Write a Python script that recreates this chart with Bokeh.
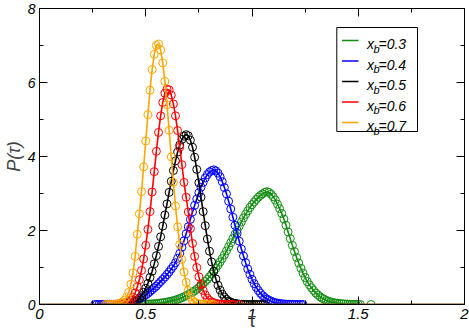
from bokeh.plotting import figure
from bokeh.models import LinearAxis, FixedTicker, Range1d, ColumnDataSource, CustomJSTickFormatter
from bokeh.core.properties import value
from bokeh.embed import file_html
from bokeh.resources import INLINE

nan = float("nan")

# common tau grid of the histograms
TAU = [0.26, 0.27, 0.28, 0.29, 0.30, 0.31, 0.32, 0.33, 0.34, 0.35,
       0.36, 0.37, 0.38, 0.39, 0.40, 0.41, 0.42, 0.43, 0.44, 0.45,
       0.46, 0.47, 0.48, 0.49, 0.50, 0.51, 0.52, 0.53, 0.54, 0.55,
       0.56, 0.57, 0.58, 0.59, 0.60, 0.61, 0.62, 0.63, 0.64, 0.65,
       0.66, 0.67, 0.68, 0.69, 0.70, 0.71, 0.72, 0.73, 0.74, 0.75,
       0.76, 0.77, 0.78, 0.79, 0.80, 0.81, 0.82, 0.83, 0.84, 0.85,
       0.86, 0.87, 0.88, 0.89, 0.90, 0.91, 0.92, 0.93, 0.94, 0.95,
       0.96, 0.97, 0.98, 0.99, 1.00, 1.01, 1.02, 1.03, 1.04, 1.05,
       1.06, 1.07, 1.08, 1.09, 1.10, 1.11, 1.12, 1.13, 1.14, 1.15,
       1.16, 1.17, 1.18, 1.19, 1.20, 1.21, 1.22, 1.23, 1.24, 1.25,
       1.26, 1.27, 1.28, 1.29, 1.30, 1.31, 1.32, 1.33, 1.34, 1.35,
       1.36, 1.37, 1.38, 1.39, 1.40, 1.41, 1.42, 1.43, 1.44, 1.45,
       1.46, 1.47, 1.48, 1.49, 1.50, 1.51, 1.52, 1.53, 1.54, 1.55,
       1.56]

XB_LABELS = ["0.3", "0.4", "0.5", "0.6", "0.7"]
COLORS = ["#118c11", "#0000ff", "#000000", "#ff0000", "#ffa500"]

# x_b = 0.3 (starts at tau = 0.45)
start_03 = 0.45
p_03 = [0, .002, .004, .006, .008, .01, .012, .015, .018, .022,
        .027, .033, .04, .048, .057, .067, .078, .09, .105, .12,
        .14, .16, .185, .21, .24, .27, .30, .33, .37, .41,
        .46, .51, .56, .62, .68, .75, .82, .89, .97, 1.06,
        1.15, 1.24, 1.34, 1.45, 1.56, 1.67, 1.78, 1.90, 2.01, 2.12,
        2.23, 2.34, 2.44, 2.53, 2.62, 2.70, 2.77, 2.84, 2.90, 2.95,
        2.99, 3.03, 3.05, 3.03, 2.98, 2.91, 2.82, 2.71, 2.59, 2.46,
        2.31, 2.14, 1.96, 1.78, 1.60, 1.43, 1.27, 1.12, .98, .85,
        .73, .62, .53, .45, .38, .31, .26, .21, .17, .14,
        .11, .09, .07, .055, .045, .035, .028, .022, .017, .013,
        .01, .008, .006, .004, .003, .002, .001, nan, nan, nan,
        nan, 0]

# x_b = 0.4 (starts at tau = 0.26)
start_04 = 0.26
p_04 = [0, 0, 0, 0, .001, .002, .003, .004, .005, .007,
        .009, .011, .014, .018, .023, .03, .04, .055, .07, .095,
        .12, .15, .18, .22, .26, .30, .35, .40, .45, .50,
        .56, .62, .68, .74, .81, .88, .96, 1.04, 1.13, 1.25,
        1.38, 1.55, 1.72, 1.91, 2.10, 2.30, 2.50, 2.68, 2.85, 3.02,
        3.17, 3.30, 3.42, 3.51, 3.58, 3.62, 3.64, 3.61, 3.55, 3.45,
        3.32, 3.16, 2.99, 2.79, 2.58, 2.36, 2.14, 1.92, 1.71, 1.50,
        1.31, 1.13, .96, .815, .682, .565, .464, .377, .303, .241,
        .19, .148, .115, .088, .067, .05, .037, .027, .02, .014,
        .01, .007, .005, .003, .002, .001, 0, 0, 0]

# x_b = 0.5 (starts at tau = 0.38)
start_05 = 0.38
p_05 = [0, .005, .01, .02, .03, .04, .06, .08, .12, .17,
        .24, .33, .44, .57, .73, .90, 1.10, 1.32, 1.57, 1.83,
        2.12, 2.42, 2.72, 3.03, 3.33, 3.62, 3.88, 4.12, 4.31, 4.46,
        4.55, 4.59, 4.56, 4.44, 4.25, 3.98, 3.65, 3.29, 2.90, 2.51,
        2.13, 1.77, 1.44, 1.15, .90, .69, .52, .39, .28, .20,
        .14, .094, .063, .04, .03, .02, .01, .006, .004, .002,
        .001, 0, 0, 0, 0, 0, 0, 0, 0]

# x_b = 0.6 (starts at tau = 0.36)
start_06 = 0.36
p_06 = [0, .003, .01, .02, .03, .05, .08, .12, .20, .31,
        .48, .67, .92, 1.23, 1.60, 2.03, 2.51, 3.04, 3.59, 4.14,
        4.65, 5.10, 5.46, 5.71, 5.82, 5.80, 5.66, 5.42, 5.10, 4.70,
        4.25, 3.78, 3.30, 2.90, 2.50, 2.05, 1.65, 1.30, 1.00, .75,
        .54, .38, .26, .17, .11, .07, .05, .03, .02, .01,
        .006, .004, .002, .001, 0, 0, nan, nan, 0]

# x_b = 0.7 (starts at tau = 0.31)
start_07 = 0.31
p_07 = [0, 0, .002, .003, .005, .01, .02, .04, .07, .12,
        .20, .33, .55, .85, 1.30, 1.90, 2.45, 3.05, 3.72, 4.42,
        5.13, 5.79, 6.35, 6.76, 7.00, 7.04, 6.88, 6.53, 6.03, 5.40,
        4.71, 3.99, 3.30, 2.66, 2.10, 1.62, 1.22, .88, .60, .38,
        .21, .11, .06, .035, .02, .01, .006, .003, .002, .001,
        0, 0]

ZERO_X = [0, 2]
ZERO_Y = [0, 0]

X_TICKS = [0, 0.5, 1, 1.5, 2]
X_MINOR = [0.25, 0.75, 1.25, 1.75]
Y_TICKS = [0, 2, 4, 6, 8]
Y_MINOR = [1, 3, 5, 7]

FONT = "Liberation Sans"

SERIES = [(start_03, p_03), (start_04, p_04), (start_05, p_05),
          (start_06, p_06), (start_07, p_07)]

FRAME_TOP = 8
FRAME_H = 296

p = figure(frame_width=425, frame_height=FRAME_H,
           x_range=Range1d(0, 2), y_range=Range1d(0, 8),
           output_backend="svg", toolbar_location=None,
           min_border_left=38, min_border_right=6,
           min_border_top=FRAME_TOP, min_border_bottom=31,
           background_fill_color="white", border_fill_color="white",
           outline_line_color="black", outline_line_width=1)
p.xgrid.visible = False
p.ygrid.visible = False


def style_axis(ax, ticks, minor, labels, size="15px"):
    ax.ticker = FixedTicker(ticks=ticks, minor_ticks=minor)
    ax.major_tick_in = 8
    ax.major_tick_out = 0
    ax.minor_tick_in = 4
    ax.minor_tick_out = 0
    ax.axis_line_color = "black"
    ax.major_tick_line_color = "black"
    ax.minor_tick_line_color = "black"
    if labels:
        ax.major_label_text_font = FONT
        ax.major_label_text_font_style = "italic"
        ax.major_label_text_font_size = size
        ax.major_label_text_color = "black"
        ax.major_label_standoff = 4
    else:
        ax.formatter = CustomJSTickFormatter(code="return ''")
        ax.major_label_text_font_size = "1px"
        ax.major_label_standoff = 0


style_axis(p.xaxis[0], X_TICKS, X_MINOR, True, "15px")
style_axis(p.yaxis[0], Y_TICKS, Y_MINOR, True, "14px")
p.xaxis[0].axis_label = "τ"
p.xaxis[0].axis_label_text_font = FONT
p.xaxis[0].axis_label_text_font_style = "normal"
p.xaxis[0].axis_label_text_font_size = "20px"
p.xaxis[0].axis_label_standoff = -13
p.yaxis[0].axis_label = "P(τ)"
p.yaxis[0].axis_label_text_font = FONT
p.yaxis[0].axis_label_text_font_style = "italic"
p.yaxis[0].axis_label_text_font_size = "18px"
p.yaxis[0].axis_label_standoff = 1

top_ax = LinearAxis()
right_ax = LinearAxis()
style_axis(top_ax, X_TICKS, X_MINOR, False)
style_axis(right_ax, Y_TICKS, Y_MINOR, False)
p.add_layout(top_ax, "above")
p.add_layout(right_ax, "right")

# series: green drawn first, orange last
for (start, vals), color in zip(SERIES, COLORS):
    i0 = TAU.index(start)
    xs = TAU[i0:i0 + len(vals)]
    src = ColumnDataSource(dict(x=xs, y=vals))
    p.scatter("x", "y", source=src, marker="circle", size=8,
              line_color=color, fill_color=None, line_width=1)
    p.line("x", "y", source=src, line_color=color, line_width=1.6)

p.line(ZERO_X, ZERO_Y, line_color="#7a4416", line_width=2)


# page pixel -> data helpers for the legend decoration
def wx(px):
    return (px - 38) / 212.5


def wy(py):
    return (FRAME_TOP + FRAME_H - py) / (FRAME_H / 8.0)


box = p.quad(left=[wx(335.3)], right=[wx(416)], top=[wy(27)], bottom=[wy(131)],
             fill_color="white", line_color="black", line_width=1)
box.level = "overlay"
ROW0, DROW = 40, 20.5
for i, (lab, color) in enumerate(zip(XB_LABELS, COLORS)):
    yl = ROW0 + DROW * i
    seg = p.segment(x0=[wx(340.5)], y0=[wy(yl)], x1=[wx(357)], y1=[wy(yl)],
                    line_color=color, line_width=1.5)
    seg.level = "overlay"
    t1 = p.text(x=[wx(365.5)], y=[wy(yl + 3.5)], text=["x"],
                text_font=value(FONT), text_font_style="italic",
                text_font_size="14px", text_baseline="alphabetic",
                text_align="left", text_color="black")
    t1.level = "overlay"
    t2 = p.text(x=[wx(372)], y=[wy(yl + 8)], text=["b"],
                text_font=value(FONT), text_font_style="italic",
                text_font_size="11px", text_baseline="alphabetic",
                text_align="left", text_color="black")
    t2.level = "overlay"
    t3 = p.text(x=[wx(377)], y=[wy(yl + 3.5)], text=["=" + lab],
                text_font=value(FONT), text_font_style="italic",
                text_font_size="14px", text_baseline="alphabetic",
                text_align="left", text_color="black")
    t3.level = "overlay"

open("out.html", "w").write(file_html(p, INLINE))
